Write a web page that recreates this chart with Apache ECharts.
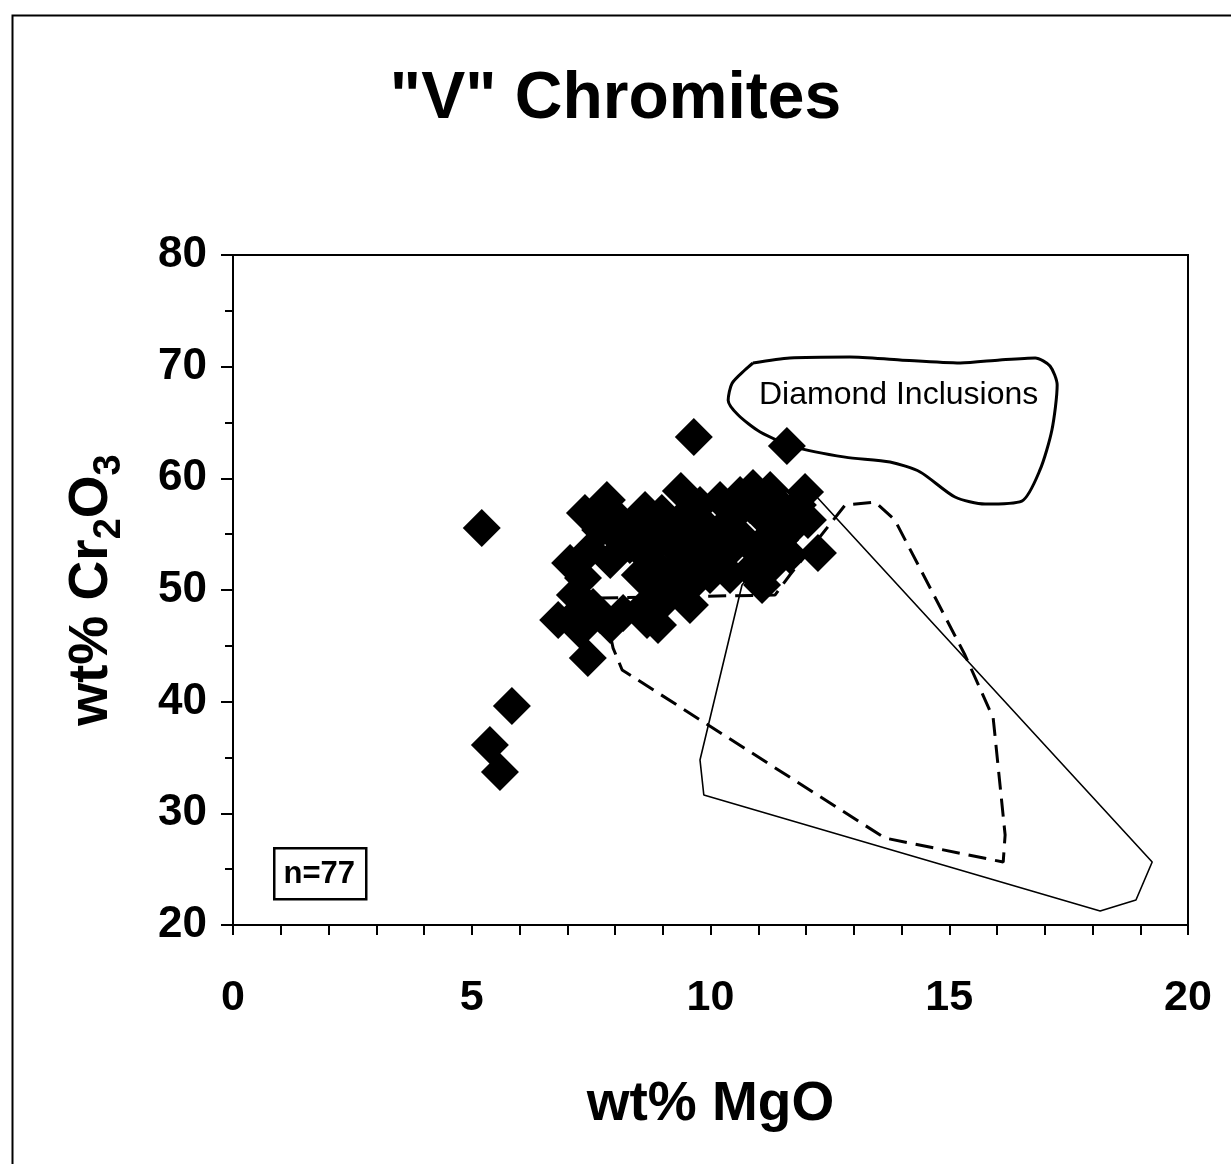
<!DOCTYPE html>
<html>
<head>
<meta charset="utf-8">
<script src="https://cdn.jsdelivr.net/npm/echarts@6/dist/echarts.min.js"></script>
<style>
html,body{margin:0;padding:0;background:#fff;}
#chart{width:1231px;height:1164px;}
</style>
</head>
<body>
<div id="chart"></div>
<script>
// ---- Data ----
var titleText = '"V" Chromites';
var xTickLabels = [0, 5, 10, 15, 20];
var yTickLabels = [20, 30, 40, 50, 60, 70, 80];

// wt% MgO of the 77 "V" chromites
var mgo = [5.21, 5.84, 5.38, 5.59, 9.65, 11.60, 12.25, 7.43, 9.38, 7.37,
           7.83, 7.06, 6.81, 8.90, 9.53, 11.08, 11.98, 11.25, 10.89, 8.98,
           8.04, 7.54, 8.17, 8.67, 10.26, 11.25, 7.16, 7.33, 7.90, 8.31,
           8.52, 8.84, 9.15, 9.57, 9.88, 10.20, 10.51, 10.83, 11.15, 11.56,
           11.77, 11.46, 11.04, 10.72, 10.41, 9.99, 9.78, 9.36, 9.05, 8.73,
           8.52, 8.80, 7.42, 8.70, 9.05, 7.69, 7.23, 9.47, 9.78, 10.20,
           10.62, 9.88, 9.26, 8.10, 7.69, 7.48, 8.63, 10.41, 10.83, 11.66,
           11.35, 12.04, 11.83, 9.57, 7.90, 7.27, 9.99];
// wt% Cr2O3 of the same grains
var cr2o3 = [55.55, 39.61, 36.12, 33.70, 63.70, 62.90, 53.31, 43.91, 58.87, 56.90,
             58.06, 52.42, 47.31, 46.87, 50.18, 50.45, 58.78, 58.96, 59.13, 56.90,
             54.75, 48.48, 47.94, 47.31, 52.06, 52.06, 49.55, 51.07, 52.69, 54.03,
             55.82, 54.03, 55.37, 54.48, 55.82, 55.37, 56.72, 57.61, 56.27, 57.16,
             55.82, 54.48, 54.03, 54.48, 53.58, 53.13, 52.24, 52.24, 51.34, 52.69,
             51.34, 50.45, 48.60, 48.90, 49.10, 47.76, 48.03, 56.72, 57.61, 58.06,
             58.51, 54.03, 53.76, 56.27, 55.37, 53.58, 57.16, 51.34, 51.79, 53.13,
             55.37, 56.27, 57.61, 48.66, 46.87, 46.42, 51.34];

// Diamond inclusion field outline (MgO, Cr2O3)
var diamondField = [[10.89,70.33],[11.66,70.78],[12.92,70.87],[13.97,70.60],[15.23,70.33],
                    [16.06,70.60],[16.80,70.78],[17.11,70.06],[17.26,68.36],[17.15,64.33],
                    [16.90,60.75],[16.52,57.97],[15.75,57.70],[15.12,58.33],[14.39,60.57],
                    [13.76,61.46],[12.82,61.90],[11.77,62.80],[11.04,64.15],[10.58,65.67],
                    [10.37,67.00],[10.45,68.50],[10.72,69.70],[10.89,70.33]];
// Solid thin field outline
var thinField = [[12.19,58.51],[10.66,50.45],[9.78,34.78],[9.86,31.64],[18.16,21.25],
                 [18.91,22.24],[19.25,25.64],[12.19,58.51]];
// Dashed field outline
var dashedField = [[7.69,49.28],[11.35,49.55],[11.66,51.34],[12.82,57.61],[13.45,57.88],
                   [13.86,56.27],[15.33,44.18],[15.92,38.54],[16.17,28.06],[16.13,25.64],
                   [13.65,27.79],[8.15,42.84],[7.96,44.80],[7.79,48.20],[7.69,49.28]];

var FONT = '"Liberation Sans", Arial, Helvetica, sans-serif';

var scatterData = mgo.map(function (x, i) { return [x, cr2o3[i]]; });

var chart = echarts.init(document.getElementById('chart'), null, {renderer: 'canvas'});
chart.setOption({
  backgroundColor: '#fff',
  animation: false,
  title: {
    text: titleText,
    left: 'center',
    top: 62,
    textStyle: {fontFamily: FONT, fontSize: 66, fontWeight: 'bold', color: '#000'}
  },
  grid: {
    left: 233, top: 255, width: 955, height: 670,
    show: true, borderColor: '#000', borderWidth: 2, backgroundColor: 'transparent'
  },
  xAxis: {
    type: 'value', min: 0, max: 20, interval: 1,
    name: 'wt% MgO', nameLocation: 'middle', nameGap: 152,
    nameTextStyle: {fontFamily: FONT, fontSize: 55, fontWeight: 'bold', color: '#000'},
    axisLine: {show: true, lineStyle: {color: '#000', width: 2}},
    axisTick: {show: true, length: 10, lineStyle: {color: '#000', width: 2}},
    axisLabel: {
      margin: 52, fontFamily: FONT, fontSize: 43, fontWeight: 'bold', color: '#000',
      formatter: function (v) { return xTickLabels.indexOf(v) >= 0 ? String(v) : ''; }
    },
    splitLine: {show: false}
  },
  yAxis: {
    type: 'value', min: 20, max: 80, interval: 10,
    name: '{a|wt% Cr}{b|2}{a|O}{b|3}', nameLocation: 'middle', nameGap: 104, nameRotate: 90,
    nameTextStyle: {
      rich: {
        a: {fontFamily: FONT, fontSize: 55, fontWeight: 'bold', color: '#000', lineHeight: 74, verticalAlign: 'middle'},
        b: {fontFamily: FONT, fontSize: 38, fontWeight: 'bold', color: '#000', lineHeight: 38, verticalAlign: 'bottom'}
      }
    },
    axisLine: {show: true, lineStyle: {color: '#000', width: 2}},
    axisTick: {show: true, length: 12, lineStyle: {color: '#000', width: 2}},
    minorTick: {show: true, splitNumber: 2, length: 8, lineStyle: {color: '#000', width: 2}},
    axisLabel: {
      margin: 26, fontFamily: FONT, fontSize: 44, fontWeight: 'bold', color: '#000',
      formatter: function (v) { return yTickLabels.indexOf(v) >= 0 ? String(v) : ''; }
    },
    splitLine: {show: false}
  },
  series: [
    {
      type: 'scatter', name: 'V chromites', data: scatterData,
      symbol: 'diamond', symbolSize: [38, 38],
      itemStyle: {color: '#000', opacity: 1}, z: 2
    },
    {
      type: 'line', name: 'Diamond Inclusions', data: diamondField,
      symbol: 'none', smooth: 0.25, silent: true,
      lineStyle: {color: '#000', width: 3}, z: 3
    },
    {
      type: 'line', name: 'field', data: thinField,
      symbol: 'none', silent: true,
      lineStyle: {color: '#000', width: 1.6}, z: 3
    },
    {
      type: 'line', name: 'dashed field', data: dashedField,
      symbol: 'none', silent: true,
      lineStyle: {color: '#000', width: 3, type: [18, 9]}, z: 3
    }
  ],
  graphic: [
    {
      type: 'rect', left: 10, top: 13, silent: true,
      shape: {width: 1300, height: 1200},
      style: {fill: 'none', stroke: '#000', lineWidth: 2}
    },
    {
      type: 'group', left: 273, top: 847,
      children: [
        {type: 'rect', shape: {x: 0, y: 0, width: 92, height: 51},
         style: {fill: '#fff', stroke: '#000', lineWidth: 2.5}},
        {type: 'text', x: 45, y: 26,
         style: {text: 'n=77', fontFamily: FONT, fontSize: 31, fontWeight: 'bold', fill: '#000',
                 align: 'center', verticalAlign: 'middle'}}
      ]
    },
    {
      type: 'text', left: 759, top: 379, z: 10,
      style: {text: 'Diamond Inclusions', fontFamily: FONT, fontSize: 32, fill: '#000'}
    }
  ]
});
</script>
</body>
</html>
